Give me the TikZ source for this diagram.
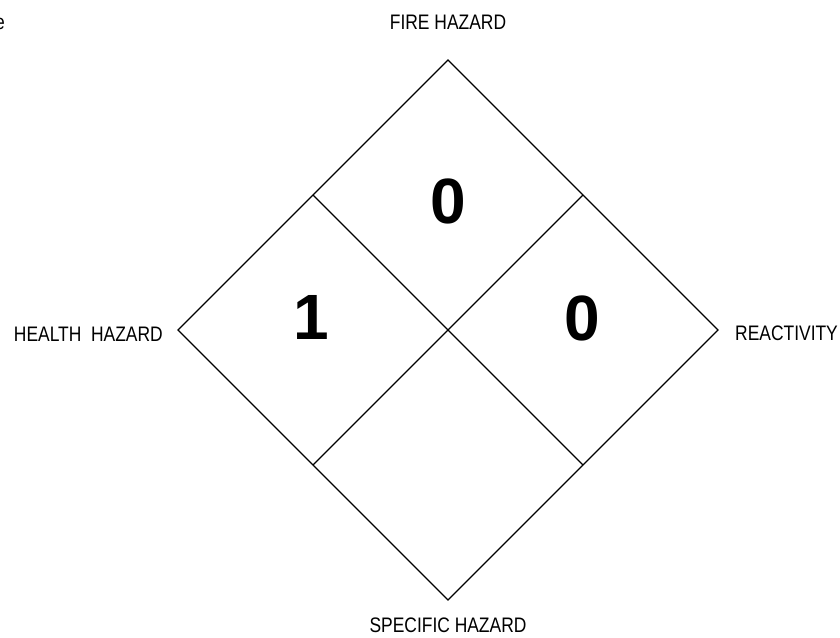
\documentclass[tikz,border=0pt]{standalone}
\usepackage{fontspec}
\usepackage{tikz}
\usetikzlibrary{positioning}
\newfontfamily\labelfont{Liberation Sans}[FakeStretch=0.83]
\newfontfamily\valuefont{Liberation Sans}

\begin{document}
\begin{tikzpicture}[
    x=1pt, y=1pt,
    node distance=20pt and 15pt,
    hazard/.style={font=\labelfont\fontsize{21}{25}\selectfont, inner sep=0pt},
    rating/.style={font=\valuefont\bfseries\fontsize{64}{70}\selectfont, inner sep=0pt},
    edge/.style={draw=black, line width=1.2pt, line join=miter}
]
    \useasboundingbox (0,0) rectangle (840,637);

    % Diamond corners
    \coordinate (topc) at (448,577);
    \coordinate (leftc) at (178,307);
    \coordinate (rightc) at (718,307);
    \coordinate (botc) at (448,37);
    \coordinate (tlmid) at (313,442);
    \coordinate (trmid) at (583,442);
    \coordinate (blmid) at (313,172);
    \coordinate (brmid) at (583,172);

    % Outline and inner divisions
    \draw[edge] (topc) -- (rightc) -- (botc) -- (leftc) -- cycle;
    \draw[edge] (tlmid) -- (brmid);
    \draw[edge] (trmid) -- (blmid);

    % Ratings
    \node[rating] (fireval) at (448,436) {0};
    \node[rating] (healthval) at (311,320) {1};
    \node[rating] (reactval) at (582,319) {0};

    % Hazard labels
    \node[hazard, above=30pt of topc] (fire) {FIRE HAZARD};
    \node[hazard, left=15pt of leftc, yshift=-4pt] (health) {HEALTH\ \ HAZARD};
    \node[hazard, right=17pt of rightc, yshift=-3pt] (react) {REACTIVITY};
    \node[hazard, below=18pt of botc] (specific) {SPECIFIC HAZARD};
    \node[hazard, anchor=base east] (cut) at (5,607) {e};
\end{tikzpicture}
\end{document}
